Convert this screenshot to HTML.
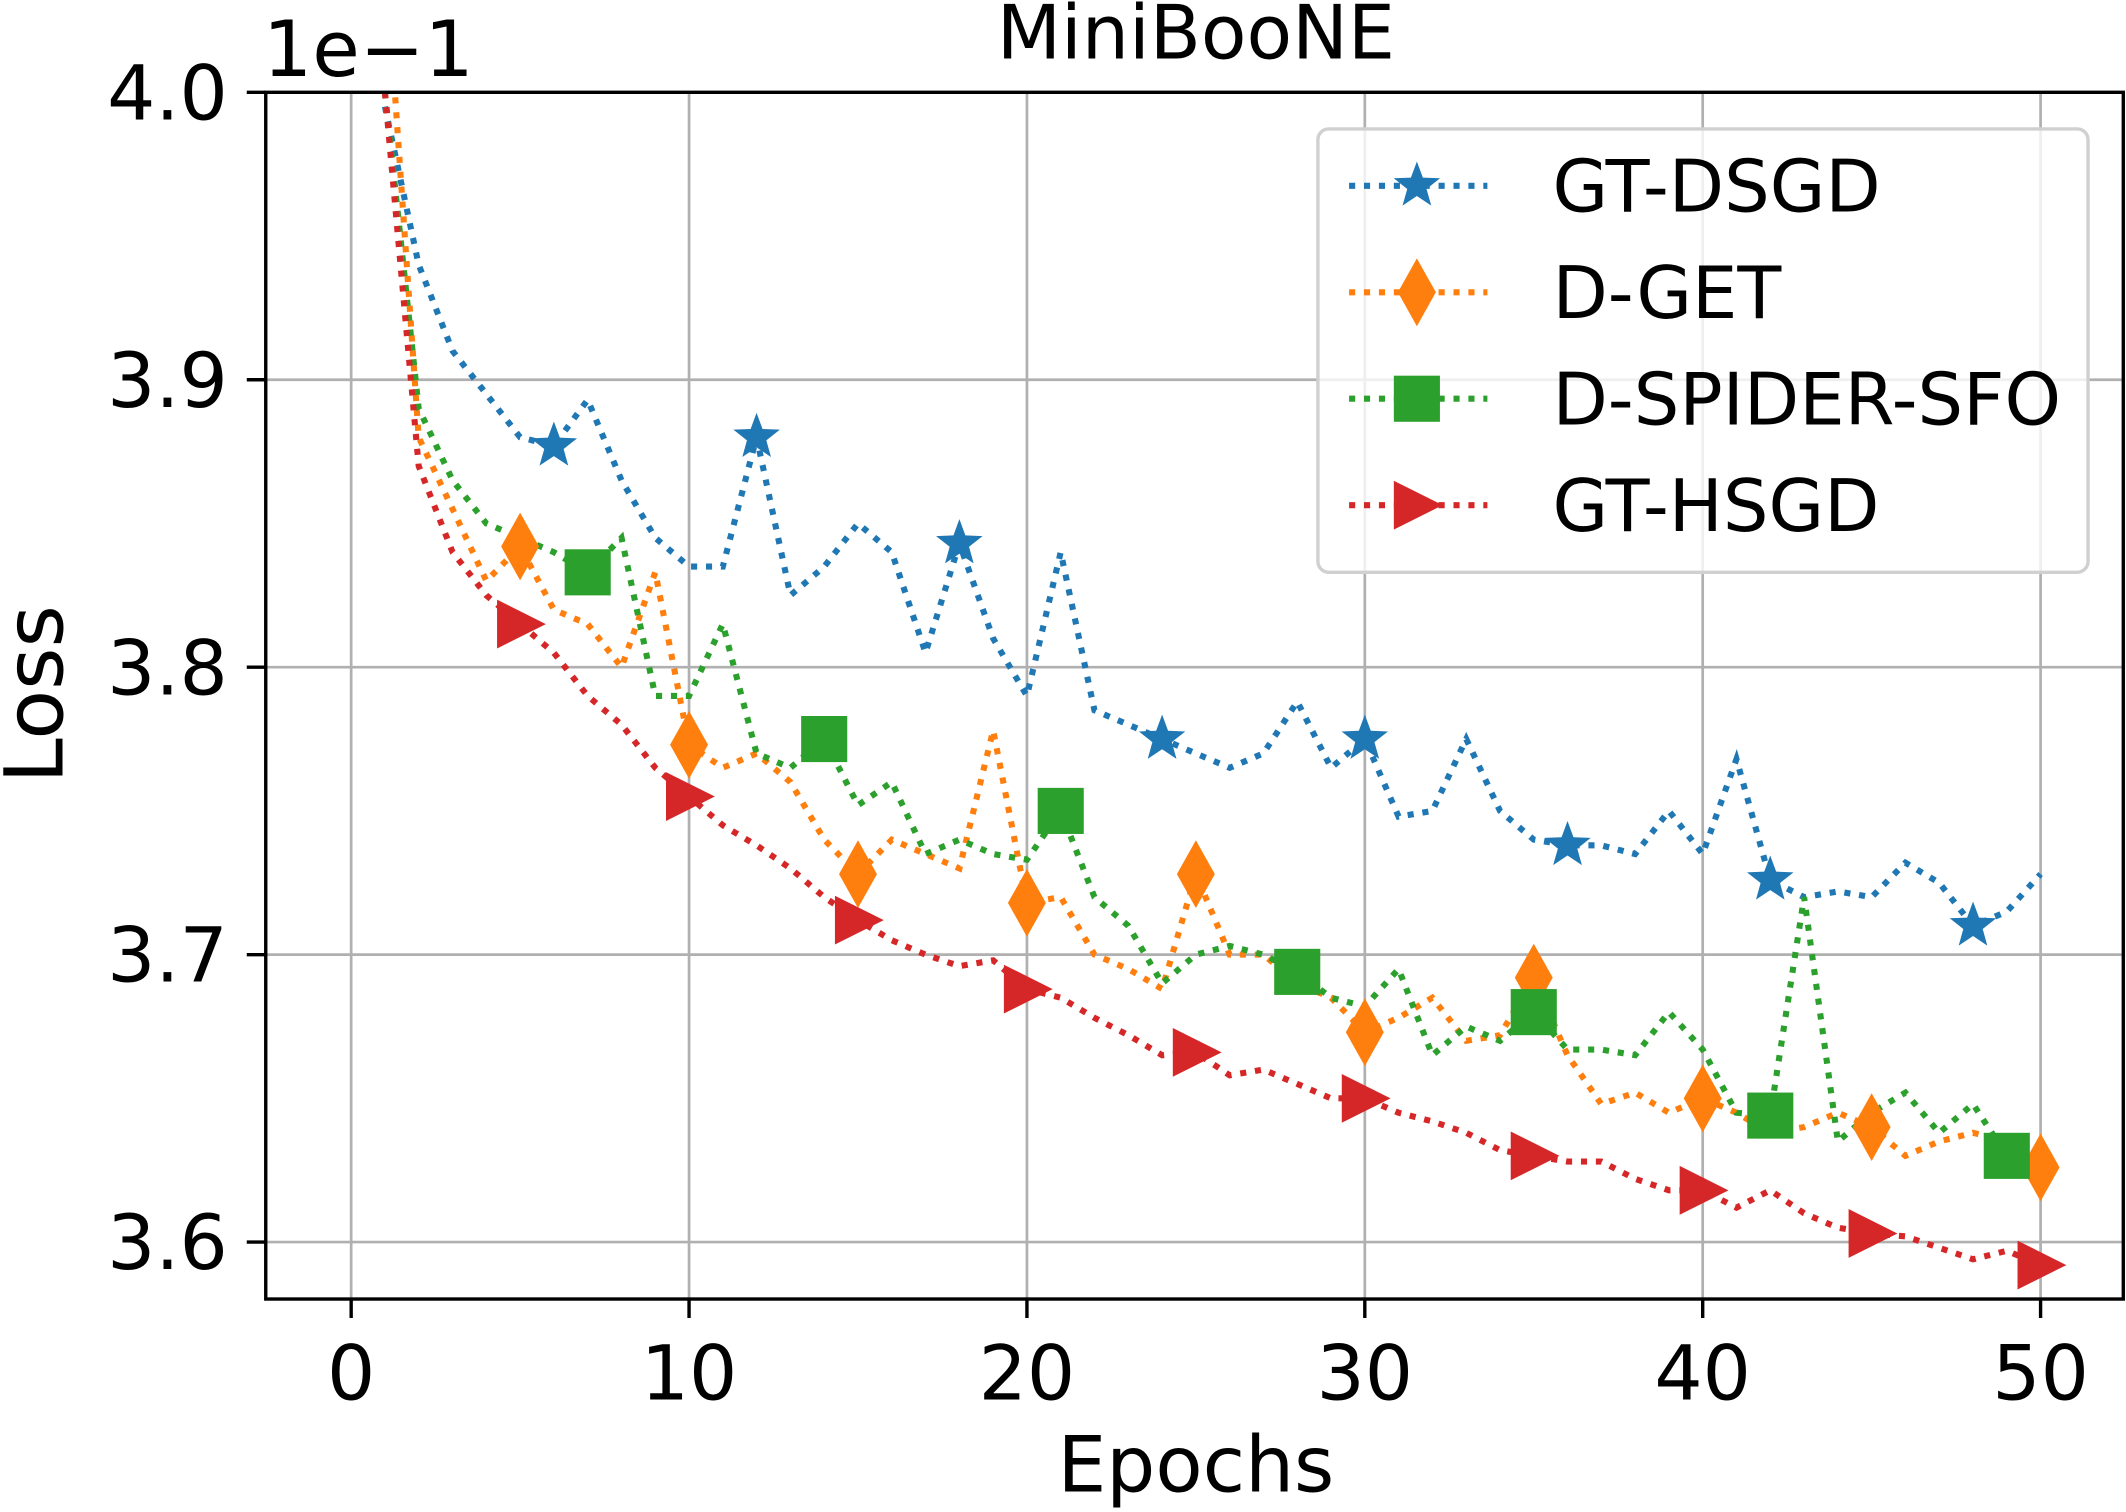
<!DOCTYPE html>
<html><head><meta charset="utf-8"><style>
html,body{margin:0;padding:0;background:#fff;}
svg{display:block;font-family:"DejaVu Sans","Liberation Sans",sans-serif;}
</style></head><body>
<svg id="chart" width="2126" height="1512" viewBox="0 0 1568 1115" xmlns="http://www.w3.org/2000/svg">
<defs><clipPath id="plotclip"><rect x="196" y="68" width="1370" height="890"/></clipPath></defs>
<rect width="1568" height="1115" fill="#fff"/>
<g id="grid"></g>
<g id="series" clip-path="url(#plotclip)"></g>
<g id="markers"></g>
<rect x="196" y="68" width="1370" height="890" fill="none" stroke="#000" stroke-width="2.5"/>
<g id="ticks"></g>
<text x="882" y="43" font-size="55" text-anchor="middle">MiniBooNE</text>
<text x="194" y="56" font-size="57">1e−1</text>
<text transform="translate(46,512) rotate(-90)" font-size="60" text-anchor="middle">Loss</text>
<text x="882" y="1100" font-size="57" text-anchor="middle">Epochs</text>
<g id="legend"></g>
</svg>
<script>
const epochs = [];
for (let i = 1; i <= 50; i++) epochs.push(i);
const seriesNames = ["GT-DSGD","D-GET","D-SPIDER-SFO","GT-HSGD"];
const gtDsgd = [3.995,3.94,3.91,3.895,3.88,3.877,3.893,3.865,3.845,3.835,3.835,3.88,3.825,3.835,3.85,3.84,3.805,3.843,3.81,3.79,3.84,3.785,3.78,3.775,3.77,3.765,3.77,3.788,3.765,3.775,3.748,3.75,3.775,3.75,3.74,3.738,3.738,3.735,3.75,3.735,3.768,3.726,3.72,3.722,3.72,3.732,3.725,3.71,3.715,3.728];
const dGet = [4.05,3.88,3.855,3.83,3.842,3.82,3.815,3.8,3.833,3.773,3.765,3.77,3.76,3.74,3.728,3.74,3.735,3.73,3.778,3.718,3.72,3.70,3.695,3.688,3.728,3.70,3.70,3.69,3.685,3.673,3.678,3.685,3.67,3.672,3.692,3.665,3.648,3.652,3.645,3.65,3.645,3.638,3.64,3.645,3.64,3.63,3.635,3.638,3.635,3.626];
const dSpider = [4.0,3.89,3.865,3.85,3.845,3.84,3.833,3.845,3.79,3.79,3.815,3.77,3.765,3.775,3.752,3.76,3.735,3.74,3.735,3.733,3.75,3.72,3.71,3.69,3.70,3.703,3.70,3.694,3.685,3.682,3.695,3.665,3.675,3.67,3.68,3.667,3.667,3.665,3.68,3.667,3.645,3.644,3.72,3.635,3.645,3.652,3.638,3.648,3.63,3.625];
const gtHsgd = [4.0,3.87,3.84,3.825,3.815,3.805,3.79,3.78,3.765,3.755,3.745,3.738,3.73,3.72,3.712,3.705,3.70,3.696,3.698,3.688,3.685,3.678,3.672,3.665,3.666,3.658,3.66,3.655,3.65,3.65,3.645,3.642,3.638,3.632,3.63,3.628,3.628,3.622,3.618,3.618,3.612,3.618,3.61,3.605,3.603,3.602,3.598,3.594,3.597,3.592];
const markEvery = [6,5,7,5];
const xTicks = [0,10,20,30,40,50];
const yTicks = [3.6,3.7,3.8,3.9,4.0];
const yTickLabels = ["3.6","3.7","3.8","3.9","4.0"];

const colors = ["#1f77b4","#ff7f0e","#2ca02c","#d62728"];
const shapes = ["star","diamond","square","tri"];
const allSeries = [gtDsgd, dGet, dSpider, gtHsgd];
const NS = "http://www.w3.org/2000/svg";
function xs(e){ return 259 + e * (1505 - 259) / 50; }
function ys(v){ return 916 - (v - 3.6) * (916 - 68) / 0.4; }
function mk(tag, attrs, parent){ const el = document.createElementNS(NS, tag); for (const k in attrs) el.setAttribute(k, attrs[k]); parent.appendChild(el); return el; }

const grid = document.getElementById('grid'), ticks = document.getElementById('ticks');
xTicks.forEach((t,i) => {
  const x = xs(t);
  const g = mk('line',{x1:x,x2:x,y1:68,y2:958,stroke:'#b0b0b0','stroke-width':2},grid);
  
  
  const tk = mk('line',{x1:x,x2:x,y1:958,y2:972,stroke:'#000','stroke-width':2.5},ticks);
  
  
  const tl = mk('text',{x:x,y:1032,'font-size':56,'text-anchor':'middle'},ticks);
  tl.textContent = String(t);
  
  
});
yTicks.forEach((t,i) => {
  const y = ys(t);
  const g = mk('line',{x1:196,x2:1566,y1:y,y2:y,stroke:'#b0b0b0','stroke-width':2},grid);
  
  
  const tk = mk('line',{x1:182,x2:196,y1:y,y2:y,stroke:'#000','stroke-width':2.5},ticks);
  
  
  const tl = mk('text',{x:168,y:y+20,'font-size':56,'text-anchor':'end'},ticks);
  tl.textContent = yTickLabels[i];
  
  
});

function drawMarker(shape, cx, cy, color, parent){
  let el;
  if (shape === 'star') {
    const pts = [];
    for (let k = 0; k < 10; k++) { const r = k % 2 ? 7.5 : 18; const a = -Math.PI/2 + k * Math.PI/5; pts.push((cx + r*Math.cos(a)).toFixed(1)+','+(cy + r*Math.sin(a)).toFixed(1)); }
    el = mk('polygon',{points:pts.join(' '),fill:color},parent);
  } else if (shape === 'diamond') {
    el = mk('polygon',{points:`${cx},${cy-25} ${cx+14},${cy} ${cx},${cy+25} ${cx-14},${cy}`,fill:color},parent);
  } else if (shape === 'square') {
    el = mk('rect',{x:cx-17,y:cy-17,width:34,height:34,fill:color},parent);
  } else {
    el = mk('polygon',{points:`${cx-17},${cy-18} ${cx+19},${cy} ${cx-17},${cy+18}`,fill:color},parent);
  }
  return el;
}

const sg = document.getElementById('series'), mg = document.getElementById('markers');
allSeries.forEach((data, s) => {
  const d = data.map((v,i) => (i ? 'L' : 'M') + xs(epochs[i]).toFixed(1) + ',' + ys(v).toFixed(1)).join(' ');
  const p = mk('path',{d:d,fill:'none',stroke:colors[s],'stroke-width':4.5,'stroke-dasharray':'4.5,6.5'},sg);
  
  
  data.forEach((v,i) => {
    if (epochs[i] % markEvery[s] === 0) {
      const m = drawMarker(shapes[s], xs(epochs[i]), ys(v), colors[s], mg);
      
      
    }
  });
});

const lg = document.getElementById('legend');
const box = mk('rect',{x:972,y:95,width:568,height:327,rx:8,fill:'#fff','fill-opacity':0.8,stroke:'#d0d0d0','stroke-width':2.5},lg);


seriesNames.forEach((n, s) => {
  const y = 137 + s * 78.5;
  const ln = mk('line',{x1:995,x2:1097,y1:y,y2:y,stroke:colors[s],'stroke-width':4.5,'stroke-dasharray':'4.5,6.5'},lg);
  
  
  const m = drawMarker(shapes[s], 1045, y, colors[s], lg);
  
  
  const t = mk('text',{x:1145,y:y+19,'font-size':53},lg);
  t.textContent = n;
  
  
});
</script>
</body></html>
